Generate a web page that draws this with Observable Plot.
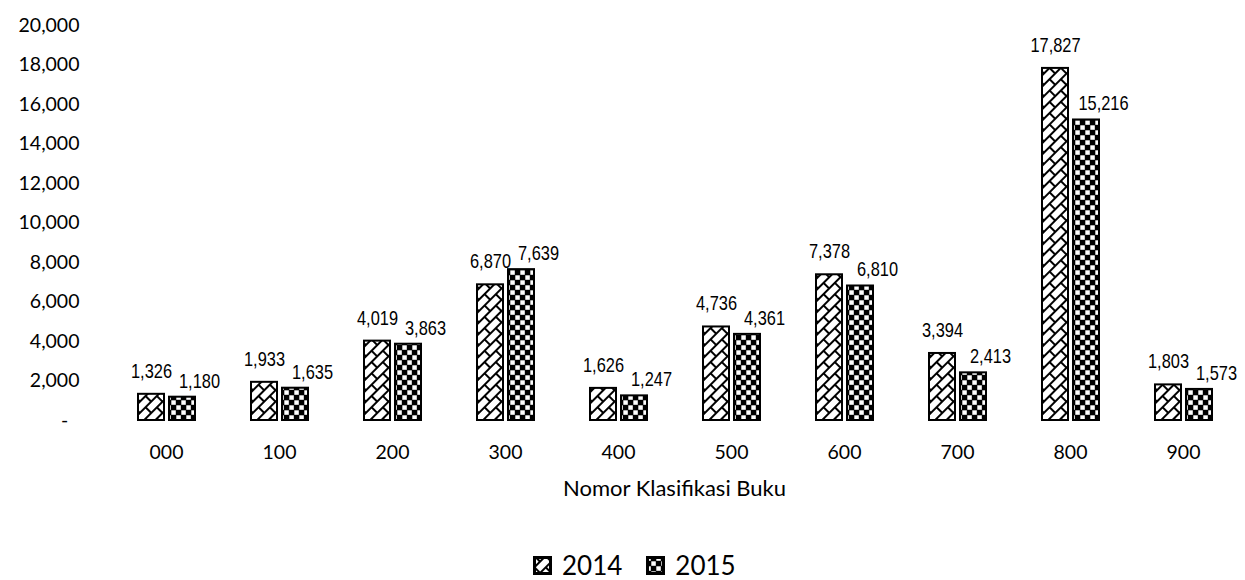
<!DOCTYPE html>
<html><head><meta charset="utf-8">
<script src="https://cdn.jsdelivr.net/npm/d3@7"></script>
<script src="https://cdn.jsdelivr.net/npm/@observablehq/plot@0.6"></script>
<style>
body{margin:0;background:#fff;width:1245px;height:580px;position:relative;overflow:hidden;font-family:Lato,sans-serif;color:#000;}
#chart{position:absolute;left:0;top:0;}
#xtitle{position:absolute;left:106px;width:1137px;top:475px;text-align:center;font-size:22px;line-height:26px;}
#legend{position:absolute;left:533px;top:550px;display:flex;align-items:center;font-size:26px;line-height:30px;}
#legend .item{display:flex;align-items:center;margin-right:24px;}
#legend svg{margin-right:10px;}
</style></head><body>
<div id="chart"></div>
<div id="xtitle">Nomor Klasifikasi Buku</div>
<div id="legend"></div>
<script>
const categories = ["000","100","200","300","400","500","600","700","800","900"];
const values2014 = [1326,1933,4019,6870,1626,4736,7378,3394,17827,1803];
const values2015 = [1180,1635,3863,7639,1247,4361,6810,2413,15216,1573];
const years = ["2014","2015"];
const yTicks = [0,2000,4000,6000,8000,10000,12000,14000,16000,18000,20000];

const rows2014 = categories.map((c,i)=>({category:c, year:"2014", value:values2014[i]}));
const rows2015 = categories.map((c,i)=>({category:c, year:"2015", value:values2015[i]}));
const fmt = d3.format(",");
const labelFont = "'Liberation Sans', Arial, sans-serif";

const chart = Plot.plot({
  width:1245, height:470,
  marginLeft:106, marginRight:2, marginTop:25, marginBottom:50,
  fx:{domain:categories, paddingInner:0.485, paddingOuter:0.2425, label:null},
  x:{domain:years, axis:null, paddingInner:0.17, paddingOuter:0},
  y:{domain:[0,20000], axis:null},
  style:{fontFamily:"Lato, sans-serif", fontSize:"19.5px", color:"#000", background:"#fff", overflow:"visible"},
  marks:[
    Plot.axisY({ticks:yTicks, tickFormat:d => d === 0 ? "-\u2007" : fmt(d), tickSize:0, tickPadding:58, label:null}),
    Plot.axisFx({anchor:"bottom", tickSize:0, tickPadding:25, label:null}),
    Plot.barY(rows2014, {fx:"category", x:"year", y:"value", fill:"url(#p2014)", stroke:"#000", strokeWidth:2}),
    Plot.barY(rows2015, {fx:"category", x:"year", y:"value", fill:"url(#p2015)", stroke:"#000", strokeWidth:2}),
    Plot.text(rows2014, {fx:"category", x:"year", y:"value", text:d=>fmt(d.value), dy:-23, fontSize:20, fontFamily:labelFont, fill:"#000"}),
    Plot.text(rows2015, {fx:"category", x:"year", y:"value", text:d=>fmt(d.value), dy:-16, dx:17, fontSize:20, fontFamily:labelFont, fill:"#000"})
  ]
});

d3.select(chart).insert("defs", ":first-child").html(`
  <pattern id="p2014" patternUnits="userSpaceOnUse" width="16" height="16" patternTransform="rotate(-45)">
    <rect width="16" height="16" fill="#fff"/>
    <path d="M0,1H16M0,9H16M1,1V9M9,9V17" stroke="#000" stroke-width="2" fill="none"/>
  </pattern>
  <pattern id="p2015" patternUnits="userSpaceOnUse" width="10" height="10">
    <rect width="10" height="10" fill="#000"/>
    <rect x="0.3" y="0.3" width="4.5" height="4.5" fill="#fff"/>
    <rect x="5.3" y="5.3" width="4.5" height="4.5" fill="#fff"/>
  </pattern>`);
// narrow the value-label glyphs (Arial Narrow look)
d3.select(chart).selectAll('g[aria-label="text"] text').each(function() {
  const t = this.getAttribute("transform") || "";
  this.setAttribute("transform", t + " scale(0.82,1)");
});
document.getElementById("chart").appendChild(chart);

const legend = d3.select("#legend");
years.forEach(y => {
  const item = legend.append("div").attr("class","item");
  const s = item.append("svg").attr("width",19).attr("height",19);
  s.append("rect").attr("x",1.5).attr("y",1.5).attr("width",16).attr("height",16)
    .attr("fill", `url(#p${y})`).attr("stroke","#000").attr("stroke-width",3);
  item.append("span").text(y);
});
</script>
</body></html>
